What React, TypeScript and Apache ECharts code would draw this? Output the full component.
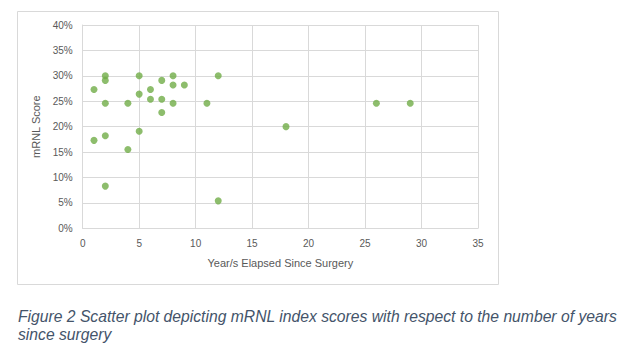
import React, { useEffect, useRef } from "react";
import * as echarts from "echarts";

const yearsElapsed = [1, 2, 2, 2, 4, 5, 5, 6, 6, 7, 7, 7, 8, 8, 8, 9, 11, 12, 18, 1, 2, 4, 5, 2, 12, 26, 29];
const mrnlScores = [27.3, 30.0, 29.1, 24.6, 24.6, 30.0, 26.4, 27.3, 25.4, 29.1, 25.4, 22.8, 30.0, 28.2, 24.6, 28.2, 24.6, 30.0, 20.0, 17.3, 18.2, 15.5, 19.1, 8.3, 5.4, 24.6, 24.6];
const xTicks = { min: 0, max: 35, interval: 5 };
const yTicks = { min: 0, max: 40, interval: 5 };
const xAxisTitle = "Year/s Elapsed Since Surgery";
const yAxisTitle = "mRNL Score";
const captionLines = [
  "Figure 2 Scatter plot depicting mRNL index scores with respect to the number of years",
  "since surgery",
];

export default function App() {
  const ref = useRef<HTMLDivElement>(null);
  useEffect(() => {
    if (!ref.current) return;
    const chart = echarts.init(ref.current, undefined, { renderer: "svg" });
    const points = yearsElapsed.map((x, i) => [x, mrnlScores[i]]);
    const axisFont = "Liberation Sans";
    chart.setOption({
      animation: false,
      grid: { left: 82.7, right: 153, top: 25, bottom: 128.7, containLabel: false },
      xAxis: {
        type: "value",
        min: xTicks.min,
        max: xTicks.max,
        interval: xTicks.interval,
        name: xAxisTitle,
        nameLocation: "middle",
        nameGap: 29,
        nameTextStyle: { color: "#595959", fontSize: 11, fontFamily: axisFont },
        axisLine: { show: true, lineStyle: { color: "#D9D9D9", width: 1 } },
        axisTick: { show: false },
        axisLabel: { color: "#595959", fontSize: 10, fontFamily: axisFont, margin: 10 },
        splitLine: { show: true, lineStyle: { color: "#D9D9D9", width: 1 } },
      },
      yAxis: {
        type: "value",
        min: yTicks.min,
        max: yTicks.max,
        interval: yTicks.interval,
        name: yAxisTitle,
        nameLocation: "middle",
        nameGap: 32,
        nameRotate: 90,
        nameTextStyle: { color: "#595959", fontSize: 11, fontFamily: axisFont },
        axisLine: { show: true, lineStyle: { color: "#D9D9D9", width: 1 } },
        axisTick: { show: false },
        axisLabel: { color: "#595959", fontSize: 10, fontFamily: axisFont, margin: 10, formatter: "{value}%" },
        splitLine: { show: true, lineStyle: { color: "#D9D9D9", width: 1 } },
      },
      series: [
        {
          type: "scatter",
          data: points,
          symbol: "circle",
          symbolSize: 7,
          itemStyle: { color: "#70AD47" },
        },
      ],
      graphic: [
        {
          type: "rect",
          shape: { x: 17.5, y: 11.5, width: 481, height: 273 },
          style: { fill: "none", stroke: "#D9D9D9", lineWidth: 1 },
          silent: true,
        },
        {
          type: "text",
          x: 18,
          y: 307,
          style: {
            text: captionLines.join("\n"),
            fill: "#44546A",
            font: "italic 15.7px 'Liberation Sans'",
            lineHeight: 18,
          },
        },
      ],
    });
    return () => chart.dispose();
  }, []);
  return (
    <div
      ref={ref}
      style={{ position: "fixed", left: 0, top: 0, width: 631, height: 357, background: "#fff" }}
    />
  );
}
